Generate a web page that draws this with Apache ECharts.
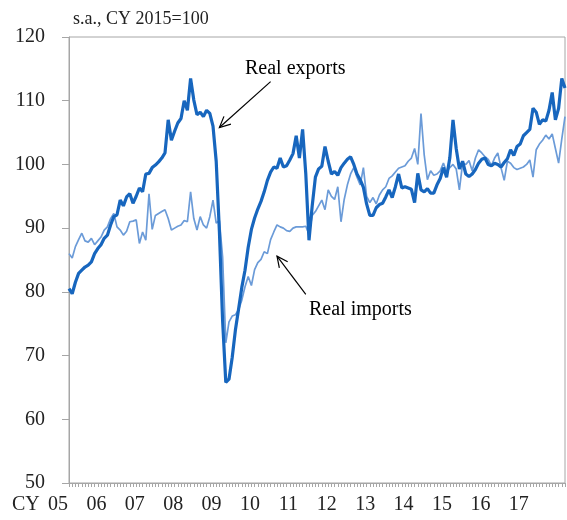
<!DOCTYPE html>
<html>
<head>
<meta charset="utf-8">
<script src="https://cdn.jsdelivr.net/npm/echarts@6/dist/echarts.min.js"></script>
<style>
html,body{margin:0;padding:0;background:#fff;}
#chart{width:567px;height:520px;}
</style>
</head>
<body>
<div id="chart"></div>
<script>
// Years shown on the axis (each has 12 monthly categories)
const years = ['05','06','07','08','09','10','11','12','13','14','15','16','17'];
const yTicks = [50, 60, 70, 80, 90, 100, 110, 120];

// Real exports, monthly, Jan 2005 - Dec 2017 (CY 2015 = 100)
const realExports = [
  80.5, 79.7, 81.5, 82.9, 83.4, 83.9, 84.2, 84.7, 86.0, 86.8, 87.4, 88.4,
  88.9, 90.5, 91.8, 92.1, 94.4, 93.5, 94.9, 95.4, 93.9, 95.0, 96.3, 95.7,
  98.5, 98.6, 99.5, 99.9, 100.4, 101.0, 101.8, 107.0, 103.8, 105.2, 106.5, 107.2,
  110.0, 108.5, 113.5, 110.1, 107.8, 108.2, 107.5, 108.5, 108.0, 106.0, 100.5, 89.5,
  75.5, 65.8, 66.3, 69.7, 74.0, 77.3, 80.7, 83.4, 87.0, 89.8, 91.6, 93.0,
  94.2, 95.7, 97.5, 98.8, 99.6, 99.4, 101.0, 99.6, 99.8, 100.7, 101.7, 104.5,
  101.0, 105.5, 98.5, 88.1, 93.5, 98.0, 99.3, 99.7, 102.8, 100.5, 98.5, 98.9,
  98.3, 99.5, 100.2, 100.8, 101.2, 100.0, 98.5, 97.6, 96.4, 93.8, 92.0, 92.0,
  93.2, 93.7, 93.9, 94.9, 96.0, 94.8, 96.5, 98.5, 96.3, 96.5, 96.3, 96.1,
  94.0, 98.6, 96.0, 95.7, 96.2, 95.5, 95.5, 96.8, 97.8, 99.5, 98.0, 101.0,
  107.0, 102.5, 99.3, 100.5, 98.5, 98.1, 98.5, 99.2, 100.2, 100.8, 101.0, 100.0,
  99.8, 100.2, 100.0, 99.6, 100.3, 100.9, 102.3, 101.4, 102.8, 103.2, 104.5, 105.0,
  105.5, 108.8, 108.2, 106.3, 107.0, 106.8, 108.5, 111.3, 107.0, 108.8, 113.5, 112.0
];

// Real imports, monthly, Jan 2005 - Dec 2017 (CY 2015 = 100)
const realImports = [
  86.0, 85.3, 87.1, 88.2, 89.2, 88.0, 87.8, 88.4, 87.4, 88.0, 88.6, 89.7,
  90.2, 91.5, 92.3, 90.2, 89.7, 88.9, 89.5, 91.0, 91.1, 91.3, 87.6, 89.4,
  88.1, 95.4, 89.8, 92.0, 92.3, 92.6, 92.9, 91.5, 89.7, 90.0, 90.3, 90.5,
  91.2, 91.0, 95.7, 91.5, 89.7, 91.8, 90.5, 90.0, 91.8, 94.4, 90.8, 91.2,
  85.5, 72.0, 75.3, 76.2, 76.4, 77.2, 78.7, 80.8, 82.4, 81.0, 83.5, 84.6,
  85.1, 86.3, 86.0, 88.2, 89.4, 90.5, 90.2, 90.0, 89.6, 89.5, 90.0, 90.2,
  90.2, 90.2, 90.3, 89.0, 92.0, 92.6, 93.5, 94.4, 92.9, 96.0, 95.0, 94.5,
  96.5, 91.0, 94.5, 96.8, 98.5, 99.5, 98.0, 96.8, 99.5, 95.0, 94.0, 94.8,
  93.8, 95.2, 96.0, 96.5, 97.8, 98.2, 98.8, 99.4, 99.6, 99.8, 100.5, 101.0,
  102.5, 100.0, 108.0, 101.5, 97.6, 99.0, 98.3, 98.5, 99.0, 100.2, 98.8, 99.5,
  100.0, 99.3, 96.0, 100.2, 100.0, 100.6, 99.0, 101.0, 102.3, 101.8, 101.2, 100.8,
  99.8, 101.0, 101.8, 99.5, 97.5, 100.5, 100.2, 99.5, 99.2, 99.4, 99.6, 100.0,
  100.7, 98.0, 102.3, 103.2, 103.8, 104.6, 104.0, 104.8, 102.5, 100.2, 104.0, 107.5
];

// Annotation anchors in data space: [month index, value]
const exportsLabel = {text: 'Real exports', at: [54.5, 113.4]};
const exportsArrow = {from: [62.5, 113.0], to: [46.6, 105.8]};
const importsLabel = {text: 'Real imports', at: [74.7, 75.6]};
const importsArrow = {from: [73.8, 79.6], to: [65.0, 85.6]};

const categories = [];
years.forEach(y => { for (let m = 1; m <= 12; m++) categories.push(y + '-' + m); });

const FONT = '"Liberation Serif", "Times New Roman", serif';
const chart = echarts.init(document.getElementById('chart'), null, {renderer: 'canvas'});

const option = {
  animation: false,
  backgroundColor: '#ffffff',
  grid: {
    left: 69, right: 2, top: 37, bottom: 37,
    show: true, borderColor: '#a6a6a6', borderWidth: 1, backgroundColor: 'transparent'
  },
  xAxis: {
    type: 'category',
    data: categories,
    boundaryGap: false,
    axisLine: {lineStyle: {color: '#a6a6a6', width: 1}},
    axisTick: {show: true, interval: 0, length: 4, lineStyle: {color: '#a6a6a6'}},
    axisLabel: {
      interval: (idx) => idx % 12 === 0,
      formatter: (v) => v.split('-')[0],
      fontFamily: FONT, fontSize: 20, color: '#222',
      margin: 12, padding: [0, 22, 0, 0]
    },
    splitLine: {show: false}
  },
  yAxis: {
    type: 'value',
    min: yTicks[0], max: yTicks[yTicks.length - 1], interval: 10,
    axisLine: {show: true, lineStyle: {color: '#a6a6a6', width: 1}},
    axisTick: {show: true, length: 7, lineStyle: {color: '#a6a6a6'}},
    axisLabel: {fontFamily: FONT, fontSize: 20, color: '#222', margin: 24},
    splitLine: {show: false}
  },
  series: [
    {
      name: 'Real imports', type: 'line', data: realImports,
      showSymbol: false, symbol: 'none',
      lineStyle: {color: '#6b9bd8', width: 1.7},
      z: 2
    },
    {
      name: 'Real exports', type: 'line', data: realExports,
      showSymbol: false, symbol: 'none',
      lineStyle: {color: '#1766be', width: 3.2},
      z: 3
    }
  ]
};
chart.setOption(option);

function px(p) { return chart.convertToPixel({gridIndex: 0}, [p[0], p[1]]); }
function arrow(a) {
  const s = px(a.from), e = px(a.to);
  const ang = Math.atan2(s[1] - e[1], s[0] - e[0]);
  const len = 12, spread = 0.45;
  const h1 = [e[0] + len * Math.cos(ang + spread), e[1] + len * Math.sin(ang + spread)];
  const h2 = [e[0] + len * Math.cos(ang - spread), e[1] + len * Math.sin(ang - spread)];
  return [
    {type: 'line', shape: {x1: s[0], y1: s[1], x2: e[0], y2: e[1]}, style: {stroke: '#000', lineWidth: 1.2}, z: 10},
    {type: 'polyline', shape: {points: [h1, e, h2]}, style: {stroke: '#000', lineWidth: 1.2, fill: null}, z: 10}
  ];
}
function label(l) {
  const p = px(l.at);
  return {type: 'text', x: p[0], y: p[1], style: {text: l.text, font: '20px ' + FONT, fill: '#000', textVerticalAlign: 'bottom'}, z: 10};
}
const xAxisBottom = px([0, yTicks[0]]);
chart.setOption({
  graphic: [
    {type: 'text', left: 73, top: 10, style: {text: 's.a., CY 2015=100', font: '18px ' + FONT, fill: '#222'}},
    {type: 'text', x: 12, y: xAxisBottom[1] + 12, style: {text: 'CY', font: '20px ' + FONT, fill: '#222'}},
    label(exportsLabel),
    label(importsLabel)
  ].concat(arrow(exportsArrow), arrow(importsArrow))
});
</script>
</body>
</html>
